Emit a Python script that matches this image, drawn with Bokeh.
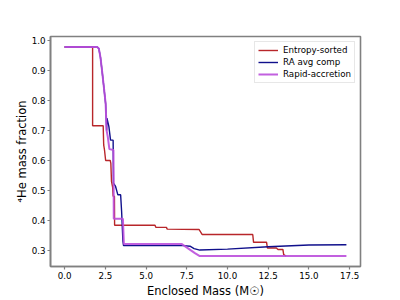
from bokeh.plotting import figure
from bokeh.models import FixedTicker, Legend, LegendItem
from bokeh.embed import file_html
from bokeh.resources import INLINE

# ---- data ----
entropy_x = [0.0, 1.72, 1.72, 2.37, 2.40, 2.45, 2.52, 2.80, 2.84, 2.88, 2.95, 2.98, 3.06, 3.07,
             5.55, 5.60, 6.25, 6.30, 8.25, 8.45, 11.55, 11.60, 12.40, 12.45, 13.00, 13.10,
             13.40, 13.45, 13.60]
entropy_y = [0.98, 0.98, 0.716, 0.716, 0.652, 0.635, 0.600, 0.600, 0.590, 0.530, 0.510, 0.480, 0.480, 0.383,
             0.383, 0.376, 0.376, 0.370, 0.369, 0.352, 0.352, 0.326, 0.326, 0.307, 0.307, 0.302,
             0.302, 0.285, 0.280]

ra_avg_x = [0.0, 2.00, 2.10, 2.20, 2.30, 2.41, 2.52, 2.58, 2.60, 2.72, 2.82, 2.98, 3.00, 3.13, 3.27,
            3.44, 3.50, 3.58, 3.62, 7.30, 7.70, 7.95, 8.30, 10.0, 12.5, 15.0, 17.3]
ra_avg_y = [0.98, 0.98, 0.975, 0.946, 0.900, 0.846, 0.790, 0.700, 0.742, 0.713, 0.668, 0.668, 0.524, 0.513, 0.485,
            0.485, 0.430, 0.330, 0.315, 0.315, 0.313, 0.305, 0.300, 0.303, 0.311, 0.317, 0.318]

rapid_x = [0.0, 2.00, 2.10, 2.20, 2.30, 2.41, 2.52, 2.58, 2.65, 2.75, 3.00, 3.02, 3.58, 3.64,
           7.20, 7.60, 8.00, 8.30, 17.3]
rapid_y = [0.98, 0.98, 0.975, 0.946, 0.900, 0.846, 0.790, 0.700, 0.680, 0.638, 0.635, 0.405, 0.405, 0.320,
           0.320, 0.305, 0.290, 0.280, 0.280]

series_names = ["Entropy-sorted", "RA avg comp", "Rapid-accretion"]
x_ticks = [0.0, 2.5, 5.0, 7.5, 10.0, 12.5, 15.0, 17.5]
x_tick_labels = ["0.0", "2.5", "5.0", "7.5", "10.0", "12.5", "15.0", "17.5"]
y_ticks = [0.3, 0.4, 0.5, 0.6, 0.7, 0.8, 0.9, 1.0]
y_tick_labels = ["0.3", "0.4", "0.5", "0.6", "0.7", "0.8", "0.9", "1.0"]

FONT = "DejaVu Sans"

p = figure(width=400, height=300, output_backend="svg", toolbar_location=None,
           x_range=(-0.865, 18.165), y_range=(0.245, 1.015),
           min_border_left=50, min_border_right=40, min_border_top=36, min_border_bottom=33)

p.xgrid.visible = False
p.ygrid.visible = False
p.background_fill_color = "white"
p.border_fill_color = "white"
p.outline_line_color = "#808080"
p.outline_line_width = 1.6

for ax in (p.xaxis[0], p.yaxis[0]):
    ax.axis_line_color = "#808080"
    ax.axis_line_width = 1.6
    ax.major_tick_line_color = "#808080"
    ax.major_tick_line_width = 1.2
    ax.major_tick_out = 3
    ax.major_tick_in = 0
    ax.minor_tick_line_color = None
    ax.major_label_text_font = FONT
    ax.major_label_text_font_size = "8.7px"
    ax.major_label_text_color = "black"
    ax.axis_label_text_font = FONT
    ax.axis_label_text_font_style = "normal"
    ax.axis_label_text_font_size = "11.5px"
    ax.axis_label_text_color = "black"

p.xaxis.ticker = FixedTicker(ticks=x_ticks)
p.xaxis.major_label_overrides = dict(zip(x_ticks, x_tick_labels))
p.yaxis.ticker = FixedTicker(ticks=y_ticks)
p.yaxis.major_label_overrides = dict(zip(y_ticks, y_tick_labels))
p.xaxis.major_label_standoff = 2
p.xaxis.axis_label_standoff = 2
p.yaxis.major_label_standoff = 2
p.yaxis.axis_label_standoff = 0
p.xaxis.axis_label = "Enclosed Mass (M\u2609)"
p.yaxis.axis_label = "\u2074He mass fraction"

r1 = p.line(entropy_x, entropy_y, line_color="#b8262a", line_width=1.4)
r2 = p.line(ra_avg_x, ra_avg_y, line_color="#10108c", line_width=1.4)
r3 = p.line(rapid_x, rapid_y, line_color="#bb4fdc", line_width=2.0, line_alpha=0.9)

legend = Legend(items=[LegendItem(label=series_names[0], renderers=[r1]),
                       LegendItem(label=series_names[1], renderers=[r2]),
                       LegendItem(label=series_names[2], renderers=[r3])],
                location="top_right")
legend.label_text_font = FONT
legend.label_text_font_size = "8.7px"
legend.label_text_color = "black"
legend.glyph_width = 20
legend.glyph_height = 10
legend.label_height = 10
legend.label_standoff = 5
legend.spacing = 2
legend.padding = 3
legend.margin = 5
legend.border_line_color = "#d0d0d0"
legend.border_line_width = 1
legend.background_fill_alpha = 0.8
p.add_layout(legend)

open("out.html", "w").write(file_html(p, INLINE))
